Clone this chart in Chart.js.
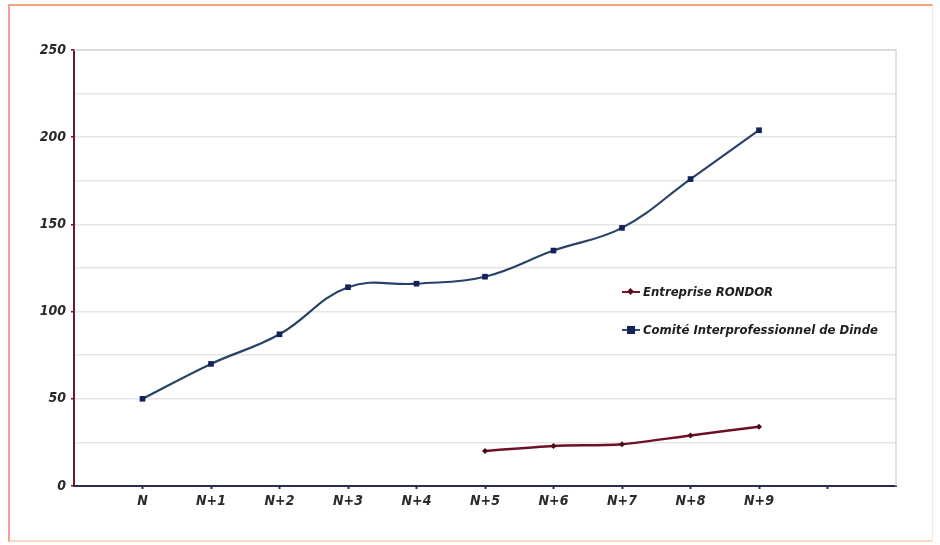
<!DOCTYPE html>
<html>
<head>
<meta charset="utf-8">
<script src="https://cdn.jsdelivr.net/npm/chart.js@4/dist/chart.umd.min.js"></script>
<style>
  html, body { margin:0; padding:0; background:#ffffff; }
  #wrap { position:relative; width:940px; height:545px; overflow:hidden; }
  #c { position:absolute; left:0; top:0; }
  #frame { position:absolute; left:8px; top:4px; width:922px; height:534px;
           border-top:2px solid #eea57e; border-left:2px solid #f3a08f;
           border-bottom:2px solid #fbd7c8; border-right:1px solid #fbe3e8;
           pointer-events:none; }
  .lg { position:absolute; font-family:'Liberation Sans Narrow','DejaVu Sans Condensed','Liberation Sans',sans-serif;
        font-style:italic; font-weight:bold; font-size:13px; color:#1e1e1e; white-space:nowrap; }
  .lg .mk { position:absolute; left:0; top:7px; width:18px; height:2px; }
  .lg .pt { position:absolute; }
  .lg span.t { position:absolute; left:21px; top:0px; }
</style>
</head>
<body>
<div id="wrap">
  <canvas id="c" width="940" height="545"></canvas>
  <div id="frame"></div>
  <div class="lg" style="left:622px; top:284px;">
    <div class="mk" style="background:#7a1630;"></div>
    <div class="pt" style="left:6px; top:5px; width:5px; height:5px; background:#5a0d20; transform:rotate(45deg);"></div>
    <span class="t">Entreprise RONDOR</span>
  </div>
  <div class="lg" style="left:622px; top:322px;">
    <div class="mk" style="background:#2a4a80;"></div>
    <div class="pt" style="left:5px; top:4px; width:8px; height:8px; background:#13235a;"></div>
    <span class="t">Comité Interprofessionnel de Dinde</span>
  </div>
</div>
<script>
const categories = ['N','N+1','N+2','N+3','N+4','N+5','N+6','N+7','N+8','N+9',''];
const comiteValues = [50, 70, 87, 114, 116, 120, 135, 148, 176, 204];
const rondorValues = [null, null, null, null, null, 20, 23, 24, 29, 34];
const yTicks = [0, 50, 100, 150, 200, 250];

const toPoints = arr => arr.map((v, i) => ({x: i, y: v})).filter(p => p.y !== null);

const tickFont = { family: "'Liberation Sans Narrow','DejaVu Sans Condensed','Liberation Sans',sans-serif", size: 14, style: 'italic', weight: 'bold' };

const plotBorder = {
  id: 'plotBorder',
  beforeDatasetsDraw(chart) {
    const {ctx, chartArea:a} = chart;
    ctx.save();
    ctx.strokeStyle = '#d8d8d8';
    ctx.lineWidth = 1.5;
    ctx.beginPath();
    ctx.moveTo(a.left, a.top);
    ctx.lineTo(a.right, a.top);
    ctx.lineTo(a.right, a.bottom);
    ctx.stroke();
    ctx.restore();
  }
};

new Chart(document.getElementById('c'), {
  type: 'line',
  data: {
    datasets: [
      {
        label: 'Comité Interprofessionnel de Dinde',
        data: toPoints(comiteValues),
        borderColor: '#2a4268',
        borderWidth: 2.2,
        pointStyle: 'rect',
        pointRadius: 4,
        pointBackgroundColor: '#13235a',
        pointBorderColor: '#13235a',
        pointBorderWidth: 0,
        tension: 0.4,
        fill: false
      },
      {
        label: 'Entreprise RONDOR',
        data: toPoints(rondorValues),
        borderColor: '#6e1028',
        borderWidth: 2.5,
        pointStyle: 'rectRot',
        pointRadius: 3,
        pointBackgroundColor: '#4a0a18',
        pointBorderColor: '#4a0a18',
        pointBorderWidth: 0,
        tension: 0.3,
        fill: false
      }
    ]
  },
  options: {
    responsive: false,
    animation: false,
    layout: { padding: { top: 50, right: 44, left: 0, bottom: 0 } },
    plugins: { legend: { display: false }, tooltip: { enabled: false } },
    scales: {
      x: {
        type: 'linear',
        min: -1,
        max: 11,
        afterBuildTicks(scale) {
          scale.ticks = categories.map((c, i) => ({ value: i }));
        },
        afterFit(scale) { scale.height = 59; },
        ticks: {
          autoSkip: false,
          maxRotation: 0,
          color: '#2a2a2a',
          font: tickFont,
          padding: 4,
          callback: (v) => categories[v] !== undefined ? categories[v] : ''
        },
        grid: { drawOnChartArea: false, drawTicks: true, tickLength: 3, tickColor: '#2a2a5a', tickWidth: 2 },
        border: { color: '#2a2a5a', width: 2 }
      },
      y: {
        min: 0,
        max: 250,
        afterBuildTicks(scale) {
          const t = [];
          for (let v = 0; v <= 250; v += 25) t.push({ value: v });
          scale.ticks = t;
        },
        afterFit(scale) { scale.width = 74; },
        ticks: {
          color: '#2a2a2a',
          font: tickFont,
          padding: 5,
          callback: (v) => yTicks.includes(v) ? String(v) : ''
        },
        grid: {
          color: (ctx) => ctx.tick && ctx.tick.value === 0 ? 'rgba(0,0,0,0)' : '#e6e6e6',
          lineWidth: 1.5,
          drawTicks: true,
          tickLength: 3,
          tickColor: (ctx) => ctx.tick && yTicks.includes(ctx.tick.value) ? '#6a1a2a' : 'rgba(0,0,0,0)'
        },
        border: { color: '#6a1a2a', width: 2 }
      }
    }
  },
  plugins: [plotBorder]
});
</script>
</body>
</html>
